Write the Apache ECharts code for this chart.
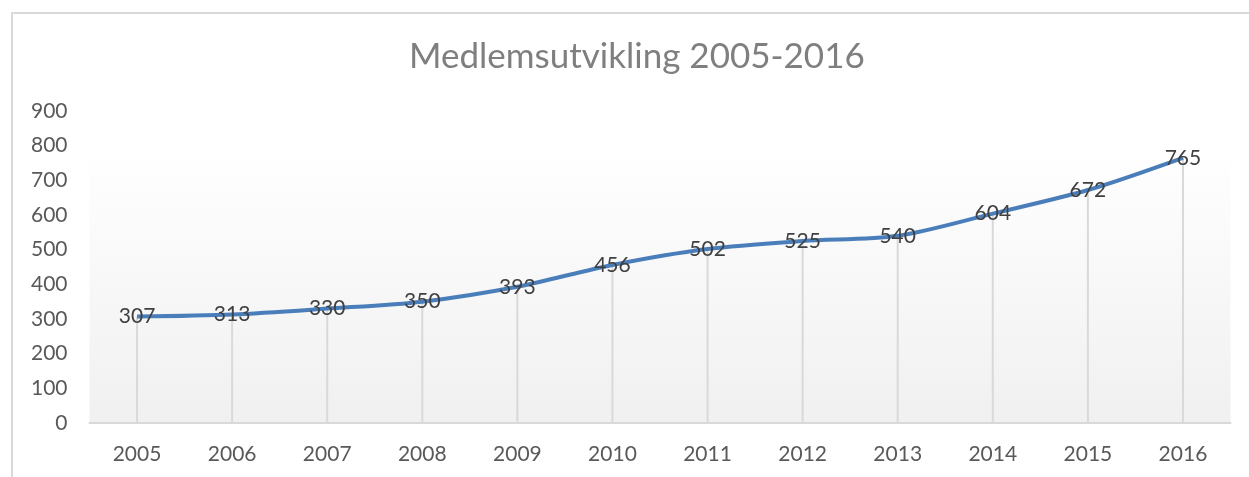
<!DOCTYPE html>
<html><head><meta charset="utf-8">
<script src="https://cdn.jsdelivr.net/npm/echarts@6/dist/echarts.min.js"></script>
<style>html,body{margin:0;padding:0;background:#fff}#c{width:1249px;height:477px}</style>
</head><body><div id="c"></div>
<script>
const years = ['2005','2006','2007','2008','2009','2010','2011','2012','2013','2014','2015','2016'];
const members = [307,313,330,350,393,456,502,525,540,604,672,765];
const titleText = 'Medlemsutvikling 2005-2016';

const chart = echarts.init(document.getElementById('c'), null, {renderer:'canvas'});
const FONT = 'Lato, "Open Sans", sans-serif';
chart.setOption({
  animation:false,
  backgroundColor:'#ffffff',
  graphic:[{type:'rect',shape:{x:12,y:13,width:1300,height:500},style:{fill:'none',stroke:'#d9d9d9',lineWidth:2},z:-10,silent:true}],
  title:{text:titleText,left:404,top:34,textStyle:{fontFamily:FONT,fontSize:35,fontWeight:'normal',color:'#7f7f7f'}},
  grid:{left:89.5,right:18.5,top:111,bottom:54,show:true,borderWidth:0,
    backgroundColor:new echarts.graphic.LinearGradient(0,0,0,1,[{offset:0,color:'#ffffff'},{offset:0.12,color:'#ffffff'},{offset:1,color:'#f0f0f0'}])},
  xAxis:{type:'category',data:years,boundaryGap:true,
    axisLine:{lineStyle:{color:'#d9d9d9',width:2}},axisTick:{show:false},
    axisLabel:{fontFamily:FONT,fontSize:21,color:'#595959',margin:21},splitLine:{show:false}},
  yAxis:{type:'value',min:0,max:900,interval:100,
    axisLine:{show:false},axisTick:{show:false},splitLine:{show:false},
    axisLabel:{fontFamily:FONT,fontSize:21,color:'#595959',margin:22}},
  series:[
    {type:'bar',data:members,barWidth:2,itemStyle:{color:'#d9d9d9'},z:1,silent:true},
    {type:'line',data:members,smooth:0.3,symbol:'circle',symbolSize:0,showSymbol:true,
     lineStyle:{color:'#4a7ebb',width:4},itemStyle:{color:'#4a7ebb'},z:3,
     label:{show:true,position:'inside',fontFamily:FONT,fontSize:21,color:'#404040'}}
  ]
});
</script></body></html>
